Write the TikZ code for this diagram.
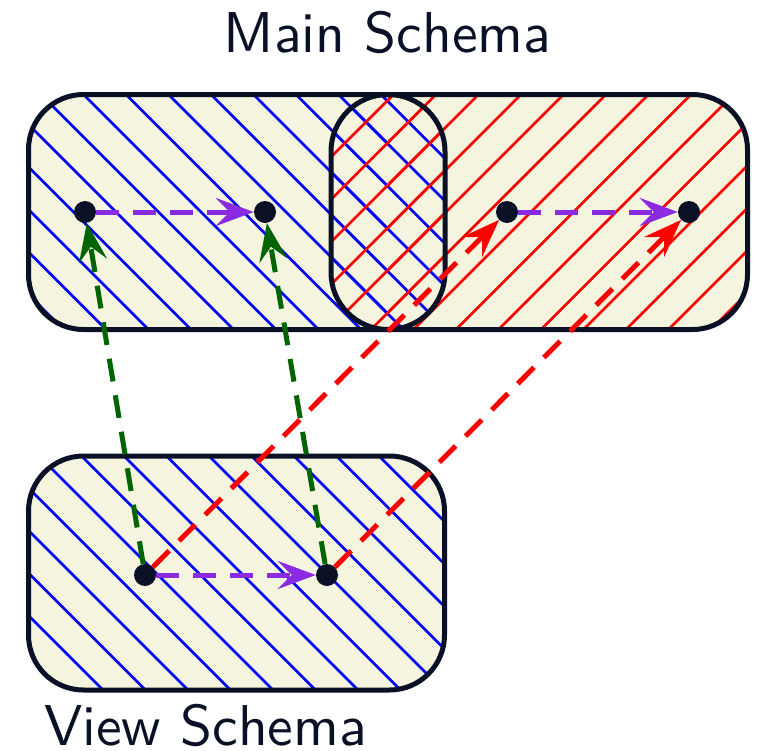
\documentclass[tikz,border=0pt]{standalone}
\usetikzlibrary{arrows.meta}
\definecolor{ink}{RGB}{10,17,38}
\definecolor{fillc}{RGB}{245,244,222}
\definecolor{purp}{RGB}{138,43,226}
\definecolor{dgreen}{RGB}{0,100,0}
\pgfdeclarelayer{bg}
\pgfdeclarelayer{arr}
\pgfsetlayers{bg,arr,main}
\newcommand{\bigsf}[1]{\scalebox{5.76}{\fontsize{10}{12}\selectfont\sffamily #1}}
\tikzset{
  dot/.style={circle,fill=ink,minimum size=22pt,inner sep=0pt},
  hatchb/.style={blue,line width=2.8pt},
  hatchr/.style={red,line width=2.8pt},
  border/.style={ink,line width=5pt},
  link/.style={line width=5pt,dash pattern=on 23pt off 14pt,-{Stealth[length=38pt,width=28pt,inset=14pt]}},
  plink/.style={link,purp},
  glink/.style={link,dgreen},
  rlink/.style={link,red},
  title/.style={text=ink,inner sep=0pt}
}
\begin{document}
\begin{tikzpicture}[x=1pt,y=-1pt]
\useasboundingbox (0,0) rectangle (758,750);
\begin{pgfonlayer}{bg}
% main schema
\fill[fillc,rounded corners=55pt] (28.5,94.5) rectangle (747.5,329.5);
\begin{scope}
  \clip[rounded corners=55pt] (28.5,94.5) rectangle (747.5,329.5);
  \begin{scope}
    \clip (0,0) rectangle (388,400);
    \foreach \k in {-8,...,9}
      \draw[hatchb] ({-11+42.5*\k+80},80) -- ({-11+42.5*\k+340},340);
  \end{scope}
  \begin{scope}
    \clip (388,0) rectangle (800,400);
    \foreach \k in {-2,...,14}
      \draw[hatchr] ({488+42.5*\k-80},80) -- ({488+42.5*\k-340},340);
  \end{scope}
  \begin{scope}
    \clip[rounded corners=57pt] (331,94.5) rectangle (445,329.5);
    \foreach \k in {-8,...,9}
      \draw[hatchb] ({-11+42.5*\k+80},80) -- ({-11+42.5*\k+340},340);
    \foreach \k in {-2,...,14}
      \draw[hatchr] ({488+42.5*\k-80},80) -- ({488+42.5*\k-340},340);
  \end{scope}
\end{scope}
\draw[border,rounded corners=55pt] (28.5,94.5) rectangle (747.5,329.5);
\draw[border,rounded corners=57pt] (331,94.5) rectangle (445,329.5);
% view schema
\fill[fillc,rounded corners=55pt] (28.5,456) rectangle (444.5,690);
\begin{scope}
  \clip[rounded corners=55pt] (28.5,456) rectangle (444.5,690);
  \foreach \k in {0,...,16}
    \draw[hatchb] ({8-42.5*\k+440},440) -- ({8-42.5*\k+700},700);
\end{scope}
\draw[border,rounded corners=55pt] (28.5,456) rectangle (444.5,690);
\end{pgfonlayer}
% texts
\node[title,anchor=base] (tmain) at (387.5,52) {\bigsf{Main Schema}};
\node[title,anchor=base west] (tview) at (44,745) {\bigsf{View Schema}};
% dots
\node[dot] (m1) at (85,212) {};
\node[dot] (m2) at (265,212) {};
\node[dot] (m3) at (507,212) {};
\node[dot] (m4) at (689,212) {};
\node[dot] (v1) at (145,575) {};
\node[dot] (v2) at (327,575) {};
\begin{pgfonlayer}{arr}
\draw[plink] (m1) -- (m2);
\draw[plink] (m3) -- (m4);
\draw[plink] (v1) -- (v2);
\draw[glink] (v1) -- (m1);
\draw[glink] (v2) -- (m2);
\draw[rlink] (v1) -- (m3);
\draw[rlink] (v2) -- (m4);
\end{pgfonlayer}
\end{tikzpicture}
\end{document}
